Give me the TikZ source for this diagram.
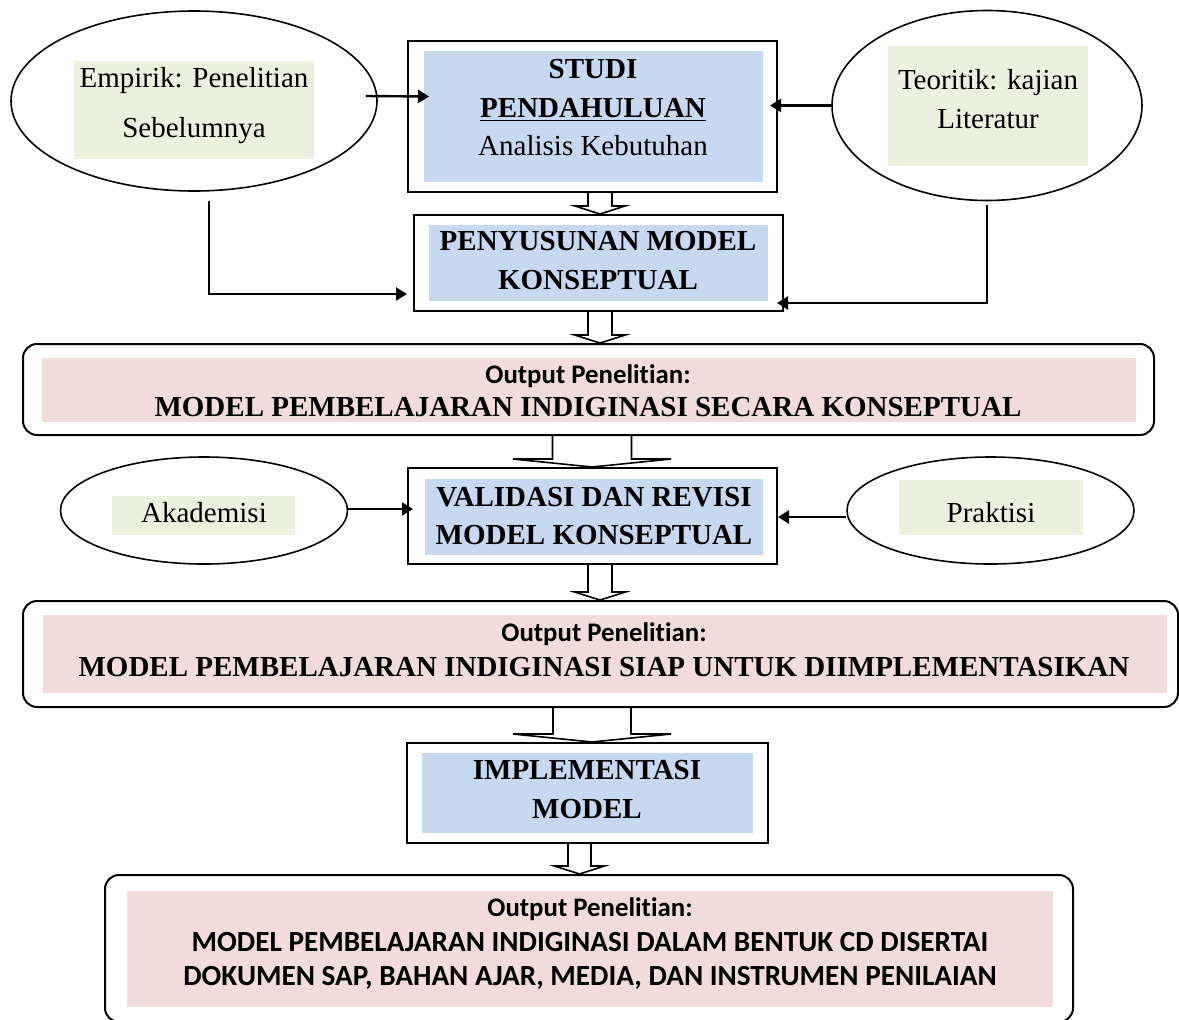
\documentclass[tikz,border=0pt]{standalone}
\usepackage{fontspec}
\setmainfont{Liberation Serif}
\newfontfamily\calibri[Ligatures=NoCommon]{Carlito}
\usetikzlibrary{arrows.meta,shapes.geometric,calc,positioning}
\definecolor{boxblue}{RGB}{198,217,241}
\definecolor{boxgreen}{RGB}{235,241,222}
\definecolor{boxpink}{RGB}{242,220,219}
\tikzset{
  main box/.style={
    draw,
    line width=1pt,
    inner sep=0pt
  },
  out box/.style={
    main box,
    rounded corners=7pt
  },
  source/.style={
    draw,
    ellipse,
    line width=0.8pt,
    inner sep=0pt
  },
  blue fill/.style={fill=boxblue, inner sep=0pt},
  green fill/.style={fill=boxgreen, inner sep=0pt},
  pink fill/.style={fill=boxpink, inner sep=0pt},
  txt/.style={
    align=center,
    inner sep=0pt,
    font=\fontsize{14.5}{19.5}\selectfont
  },
  conn/.style={line width=1.2pt, -{Triangle[length=5.5pt,width=6.5pt]}},
  fat/.style={line width=0.8pt}
}
% hollow arrow: from node, to node, x of centre, shaft half width, head half width
\newcommand{\fatarrow}[5]{%
  \coordinate (fa) at (#3,0);
  \draw[fat] ($(fa |- #1.south)+(-#4,0)$) -- ($(fa |- #2.north)+(-#4,-8)$)
    -- ($(fa |- #2.north)+(-#5,-8)$) -- (fa |- #2.north)
    -- ($(fa |- #2.north)+(#5,-8)$) -- ($(fa |- #2.north)+(#4,-8)$)
    -- ($(fa |- #1.south)+(#4,0)$);
}

\begin{document}
\begin{tikzpicture}[x=0.5pt, y=-0.5pt]
   \useasboundingbox (0,0) rectangle (1179,1019);

   % sources
   \node[source, minimum width=183pt, minimum height=90pt] (empirik) at (194,101) {};
   \node[green fill, minimum width=120pt, minimum height=49pt] (empirikfill) at (194,110) {};
   \node[txt, font=\fontsize{14.5}{25}\selectfont] (empiriktext) at (194,106) {Empirik: Penelitian\\Sebelumnya};

   \node[source, minimum width=155pt, minimum height=95pt] (teoritik) at (987,105.5) {};
   \node[green fill, minimum width=100pt, minimum height=60pt] (teoritikfill) at (988,106) {};
   \node[txt] (teoritiktext) at (988,99) {Teoritik: kajian\\Literatur};

   \node[source, minimum width=143.5pt, minimum height=53.5pt] (akademisi) at (204,510.5) {};
   \node[green fill, minimum width=91.5pt, minimum height=19.5pt] (akademisifill) at (203.5,515.5) {};
   \node[txt] (akademisitext) at (204,513) {Akademisi};

   \node[source, minimum width=143.5pt, minimum height=53.5pt] (praktisi) at (990.5,510.5) {};
   \node[green fill, minimum width=92pt, minimum height=27.5pt] (praktisifill) at (991,507.5) {};
   \node[txt] (praktisitext) at (991,513) {Praktisi};

   % steps
   \node[main box, minimum width=184.5pt, minimum height=75.5pt] (studi) at (592.5,116.5) {};
   \node[blue fill, minimum width=169.5pt, minimum height=65.5pt] (studifill) at (593.5,116.5) {};
   \node[txt, font=\fontsize{14.5}{19.25}\selectfont] (studitext) at (593,108)
      {\bfseries STUDI\\\bfseries\underline{PENDAHULUAN}\\Analisis Kebutuhan};

   \node[main box, minimum width=184.5pt, minimum height=48pt] (penyusunan) at (598.5,263) {};
   \node[blue fill, minimum width=169.5pt, minimum height=38pt] (penyusunanfill) at (598.5,263) {};
   \node[txt, font=\fontsize{14.5}{19.5}\selectfont\bfseries] (penyusunantext) at (598,261)
      {PENYUSUNAN MODEL\\KONSEPTUAL};

   \node[main box, minimum width=184.5pt, minimum height=48pt] (validasi) at (592.5,516) {};
   \node[blue fill, minimum width=169pt, minimum height=38pt] (validasifill) at (594,517) {};
   \node[txt, font=\fontsize{14.5}{19}\selectfont\bfseries] (validasitext) at (594,516)
      {VALIDASI DAN REVISI\\MODEL KONSEPTUAL};

   \node[main box, minimum width=180.5pt, minimum height=50pt] (implementasi) at (587.5,793) {};
   \node[blue fill, minimum width=165.5pt, minimum height=40pt] (implementasifill) at (587.5,793) {};
   \node[txt, font=\fontsize{14.5}{19.5}\selectfont\bfseries] (implementasitext) at (587,790)
      {IMPLEMENTASI\\MODEL};

   % outputs
   \node[out box, minimum width=565.5pt, minimum height=45.5pt] (out1) at (588.5,389.5) {};
   \node[pink fill, minimum width=547pt, minimum height=32pt] (out1fill) at (589,390) {};
   \node[txt, font=\fontsize{14.5}{16.5}\selectfont] (out1text) at (588,391)
      {{\calibri\bfseries\fontsize{13.4}{16.5}\selectfont Output Penelitian:}\\
       \bfseries MODEL PEMBELAJARAN INDIGINASI SECARA KONSEPTUAL};

   \node[out box, minimum width=577.5pt, minimum height=53pt] (out2) at (600.5,654) {};
   \node[pink fill, minimum width=562pt, minimum height=39pt] (out2fill) at (605,654) {};
   \node[txt, font=\fontsize{14.5}{17.5}\selectfont] (out2text) at (604,650)
      {{\calibri\bfseries\fontsize{13.4}{17.5}\selectfont Output Penelitian:}\\
       \bfseries MODEL PEMBELAJARAN INDIGINASI SIAP UNTUK DIIMPLEMENTASIKAN};

   \node[out box, minimum width=484pt, minimum height=73.5pt] (out3) at (589,948.5) {};
   \node[pink fill, minimum width=463pt, minimum height=58pt] (out3fill) at (590,949) {};
   \node[txt, font=\calibri\bfseries\fontsize{14.6}{17.25}\selectfont] (out3text) at (590,944)
      {{\fontsize{13.4}{17.25}\selectfont Output Penelitian:}\\
       MODEL PEMBELAJARAN INDIGINASI DALAM BENTUK CD DISERTAI\\
       DOKUMEN SAP, BAHAN AJAR, MEDIA, DAN INSTRUMEN PENILAIAN};

   % hollow arrows
   \fatarrow{studi}{penyusunan}{600}{12}{25}
   \fatarrow{penyusunan}{out1}{600}{12}{25.5}
   \fatarrow{out1}{validasi}{592}{39.5}{79}
   \fatarrow{validasi}{out2}{600}{12}{25.5}
   \fatarrow{out2}{implementasi}{592}{39}{79}
   \fatarrow{implementasi}{out3}{579.5}{11.5}{25}

   % inputs
   \draw[conn] ([shift={(-12,-5)}]empirik.east) -- ([shift={(22,-20)}]studi.west);
   \draw[conn] (teoritik.west) -- ([shift={(-8,-11)}]studi.east);
   \draw[conn] ([shift={(15,9)}]empirik.south) |- ([shift={(-6,31)}]penyusunan.west);
   \draw[conn] ([shift={(0,4)}]teoritik.south) |- ([shift={(-7,40)}]penyusunan.east);
   \draw[conn] ([shift={(0,-1.5)}]akademisi.east) -- ([shift={(6,-7)}]validasi.west);
   \draw[conn] ([shift={(0,6.5)}]praktisi.west) -- ([shift={(0,1)}]validasi.east);
\end{tikzpicture}
\end{document}
